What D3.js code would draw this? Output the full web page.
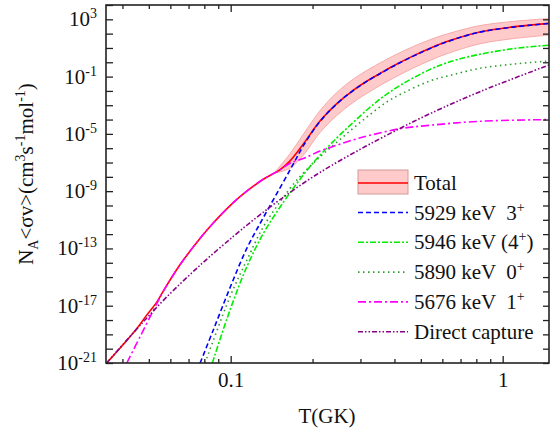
<!DOCTYPE html>
<html>
<head>
<meta charset="utf-8">
<script src="https://cdn.jsdelivr.net/npm/d3@7/dist/d3.min.js"></script>
<style>
body { margin: 0; background: #fff; }
</style>
</head>
<body>
<svg id="chart" width="550" height="429"></svg>
<script>
// valeurs (T en GK, taux en cm3 s-1 mol-1)
const T_total = [0.035, 0.0452, 0.0491, 0.0535, 0.0565, 0.0651, 0.0771, 0.0863, 0.1022, 0.1146, 0.1318, 0.152, 0.165, 0.185, 0.213, 0.245, 0.282, 0.325, 0.355, 0.407, 0.469, 0.541, 0.62, 0.825, 1.09, 1.5];
const rate_total = [1e-21, 2.6e-19, 2.2e-18, 1.78e-17, 1.05e-16, 7.2e-15, 5.0e-13, 6.0e-12, 1.58e-10, 1.0e-9, 6.8e-9, 3.2e-8, 1.26e-7, 2.0e-6, 7.9e-5, 1.23e-3, 1.1e-2, 6.5e-2, 0.17, 0.72, 2.8, 9.5, 27, 132, 295, 537];

const T_band = [0.145, 0.165, 0.185, 0.213, 0.245, 0.282, 0.325, 0.355, 0.407, 0.469, 0.541, 0.62, 0.825, 1.09, 1.5];
const band_low = [1.82e-8, 4.0e-8, 3.3e-7, 1.26e-5, 1.86e-4, 1.58e-3, 9.1e-3, 2.45e-2, 0.102, 0.40, 1.35, 3.8, 19.5, 44.7, 81];
const band_high = [2.0e-8, 4.0e-7, 9.5e-6, 4.2e-4, 7.4e-3, 6.6e-2, 0.36, 0.93, 3.6, 12.6, 38, 91, 363, 708, 1150];

const T_5929 = [0.0772, 0.0863, 0.0994, 0.1146, 0.1318, 0.152, 0.170, 0.185, 0.213, 0.245, 0.282, 0.325, 0.355, 0.407, 0.469, 0.541, 0.62, 0.825, 1.09, 1.5];
const rate_5929 = [1e-21, 2.0e-19, 1.78e-16, 1.0e-13, 1.41e-11, 1.78e-9, 7.9e-8, 1.51e-6, 7.4e-5, 1.2e-3, 1.07e-2, 6.3e-2, 0.165, 0.70, 2.7, 9.2, 26, 128, 286, 521];

const T_5946 = [0.0856, 0.0994, 0.1146, 0.1318, 0.152, 0.175, 0.2014, 0.245, 0.282, 0.325, 0.364, 0.43, 0.541, 0.62, 0.76, 1.09, 1.5];
const rate_5946 = [1e-21, 4.9e-18, 5.2e-15, 1.1e-12, 7.9e-11, 3.4e-9, 1.0e-7, 5.0e-6, 6.3e-5, 7.1e-4, 4.0e-3, 3.2e-2, 0.32, 0.89, 2.6, 8.9, 15.8];

const T_5890 = [0.0805, 0.0994, 0.1146, 0.1318, 0.152, 0.175, 0.213, 0.245, 0.282, 0.325, 0.373, 0.43, 0.541, 0.66, 0.825, 1.09, 1.5];
const rate_5890 = [1e-21, 4.2e-17, 1.5e-14, 3.2e-12, 1.8e-10, 5.9e-9, 2.5e-7, 2.5e-6, 2.5e-5, 2.2e-4, 1.6e-3, 7.1e-3, 5.0e-2, 0.14, 0.38, 0.74, 1.26];

const T_5676 = [0.0415, 0.0471, 0.0535, 0.0565, 0.0651, 0.0771, 0.0863, 0.1022, 0.1146, 0.1318, 0.152, 0.165, 0.185, 0.213, 0.245, 0.282, 0.325, 0.419, 0.541, 0.825, 1.5];
const rate_5676 = [1e-21, 1.17e-19, 1.4e-17, 1.0e-16, 7.2e-15, 5.0e-13, 6.0e-12, 1.58e-10, 1.0e-9, 6.8e-9, 3.1e-8, 8.9e-8, 1.9e-7, 6.3e-7, 1.6e-6, 3.8e-6, 7.9e-6, 2.3e-5, 4.0e-5, 7.6e-5, 1.0e-4];

const T_dc = [0.035, 0.0452, 0.0491, 0.0582, 0.0771, 0.1022, 0.1246, 0.152, 0.207, 0.299, 0.419, 0.541, 0.825, 1.5];
const rate_dc = [1e-21, 2.45e-19, 1.35e-18, 4.1e-17, 6.6e-15, 6.9e-13, 1.48e-11, 2.6e-10, 1.45e-8, 8.3e-7, 2.4e-5, 2.6e-4, 8.9e-3, 0.71];

const xMajor = [0.1, 1];
const xMinor = [0.04, 0.05, 0.06, 0.07, 0.08, 0.09, 0.2, 0.3, 0.4, 0.5, 0.6, 0.7, 0.8, 0.9];
const yExp = d3.range(-21, 5);
const yLabelExp = [3, -1, -5, -9, -13, -17, -21];

const legendItems = [
    { label: "5929 keV  3", sup: "+", after: "", color: "#0000ff", dash: "5,3" },
    { label: "5946 keV (4", sup: "+", after: ")", color: "#00ee00", dash: "6,2,2,2" },
    { label: "5890 keV  0", sup: "+", after: "", color: "#2e9e2e", dash: "1.5,3.5" },
    { label: "5676 keV  1", sup: "+", after: "", color: "#ff00ff", dash: "8,3,2,3" },
    { label: "Direct capture", sup: "", after: "", color: "#880088", dash: "5,2,1.5,2,1.5,2" }
];

const L = 106, R = 549, TOP = 5, BOT = 363;
const FONT = "'Liberation Serif', 'Times New Roman'";
const svg = d3.select("#chart");

const x = d3.scaleLog().domain([0.0348, 1.48]).range([L, R]);
const y = d3.scaleLog().domain([1e-21, 1e4]).range([BOT, TOP]);

svg.append("defs").append("clipPath").attr("id", "plotClip")
    .append("rect").attr("x", L).attr("y", TOP).attr("width", R - L).attr("height", BOT - TOP);

const plot = svg.append("g").attr("clip-path", "url(#plotClip)");

function pairs(ts, vs) { return ts.map((t, i) => ({ t: t, v: vs[i] })) }

// texte en police serif, style en ligne
function txt(parent, size) {
    return parent.append("text")
        .style("font-family", FONT)
        .style("font-size", size + "px")
        .style("fill", "#111");
}

const smooth = d3.curveCatmullRom.alpha(0.5);
const line = d3.line().x(d => x(d.t)).y(d => y(d.v)).curve(smooth);

// bande d'incertitude
const bandData = T_band.map((t, i) => ({ t: t, lo: band_low[i], hi: band_high[i] }));
plot.append("path")
    .datum(bandData)
    .attr("d", d3.area().x(d => x(d.t)).y0(d => y(d.lo)).y1(d => y(d.hi)).curve(smooth))
    .style("fill", "#ffcaca")
    .style("stroke", "#f7aaaa")
    .style("stroke-width", 1);

plot.append("path")
    .datum(pairs(T_total, rate_total))
    .attr("d", line)
    .style("fill", "none")
    .style("stroke", "#ff0000")
    .style("stroke-width", 1.6);

const series = [
    [T_5929, rate_5929], [T_5946, rate_5946], [T_5890, rate_5890], [T_5676, rate_5676], [T_dc, rate_dc]
];
series.forEach((s, i) => {
    plot.append("path")
        .datum(pairs(s[0], s[1]))
        .attr("d", line)
        .style("fill", "none")
        .style("stroke", legendItems[i].color)
        .style("stroke-width", 1.6)
        .style("stroke-dasharray", legendItems[i].dash);
});

// axes (ticks vers l'intérieur)
function styleAxis(g) {
    g.select(".domain").remove();
    g.selectAll(".tick line").style("stroke", "#222").style("stroke-width", 1.3);
}
svg.append("g").attr("transform", `translate(0,${BOT})`)
    .call(d3.axisBottom(x).tickValues(xMinor).tickSize(-4).tickFormat(""))
    .call(styleAxis);
svg.append("g").attr("transform", `translate(0,${BOT})`)
    .call(d3.axisBottom(x).tickValues(xMajor).tickSize(-7).tickPadding(9).tickFormat(d3.format("")))
    .call(styleAxis)
    .selectAll("text")
    .style("font-family", FONT).style("font-size", "21px").style("fill", "#111");
svg.append("g").attr("transform", `translate(0,${TOP})`)
    .call(d3.axisTop(x).tickValues(xMinor).tickSize(-4).tickFormat(""))
    .call(styleAxis);
svg.append("g").attr("transform", `translate(0,${TOP})`)
    .call(d3.axisTop(x).tickValues(xMajor).tickSize(-7).tickFormat(""))
    .call(styleAxis);
const yTicks = yExp.map(e => Math.pow(10, e));
svg.append("g").attr("transform", `translate(${L},0)`)
    .call(d3.axisLeft(y).tickValues(yTicks).tickSize(-7).tickFormat(""))
    .call(styleAxis);
svg.append("g").attr("transform", `translate(${R},0)`)
    .call(d3.axisRight(y).tickValues(yTicks).tickSize(-6).tickFormat(""))
    .call(styleAxis);

svg.append("rect")
    .attr("x", L).attr("y", TOP).attr("width", R - L).attr("height", BOT - TOP)
    .style("fill", "none").style("stroke", "#222").style("stroke-width", 1.6);

// étiquettes de l'axe y : 10^n
yLabelExp.forEach(e => {
    const t = txt(svg, 21)
        .attr("x", L - 9)
        .attr("y", y(Math.pow(10, e)) + 7)
        .attr("text-anchor", "end");
    t.append("tspan").text("10");
    t.append("tspan").attr("dy", -8).style("font-size", "14px").text(e);
});

// titres
txt(svg, 21)
    .attr("x", (L + R) / 2 - 0.5).attr("y", 423)
    .attr("text-anchor", "middle")
    .text("T(GK)");

const yt = txt(svg, 21)
    .attr("transform", "translate(33,174) rotate(-90)")
    .attr("text-anchor", "middle");
yt.append("tspan").text("N");
yt.append("tspan").attr("dy", 5).style("font-size", "14px").text("A");
yt.append("tspan").attr("dy", -5).text("<σv>(cm");
yt.append("tspan").attr("dy", -8).style("font-size", "14px").text("3");
yt.append("tspan").attr("dy", 8).text("s");
yt.append("tspan").attr("dy", -8).style("font-size", "14px").text("-1");
yt.append("tspan").attr("dy", 8).text("mol");
yt.append("tspan").attr("dy", -8).style("font-size", "14px").text("-1");
yt.append("tspan").attr("dy", 8).text(")");

// légende
const lx = 358, lw = 50, tx = 414;
const leg = svg.append("g");
leg.append("rect").attr("x", lx).attr("y", 170).attr("width", lw).attr("height", 24)
    .style("fill", "#ffcaca").style("stroke", "#d49a9a").style("stroke-width", 1);
leg.append("line").attr("x1", lx).attr("x2", lx + lw).attr("y1", 183).attr("y2", 183)
    .style("stroke", "#ff0000").style("stroke-width", 1.6);
txt(leg, 21).attr("x", tx).attr("y", 190).text("Total");

legendItems.forEach((d, i) => {
    const cy = 212.5 + i * 29.8;
    leg.append("line").attr("x1", lx).attr("x2", lx + lw).attr("y1", cy).attr("y2", cy)
        .style("stroke", d.color).style("stroke-width", 1.6).style("stroke-dasharray", d.dash);
    const t = txt(leg, 21).attr("x", tx).attr("y", cy + 7)
        .attr("xml:space", "preserve").style("white-space", "pre");
    t.append("tspan").text(d.label);
    if (d.sup) t.append("tspan").attr("dy", -8).style("font-size", "14px").text(d.sup);
    if (d.after) t.append("tspan").attr("dy", 8).text(d.after);
});
</script>
</body>
</html>
